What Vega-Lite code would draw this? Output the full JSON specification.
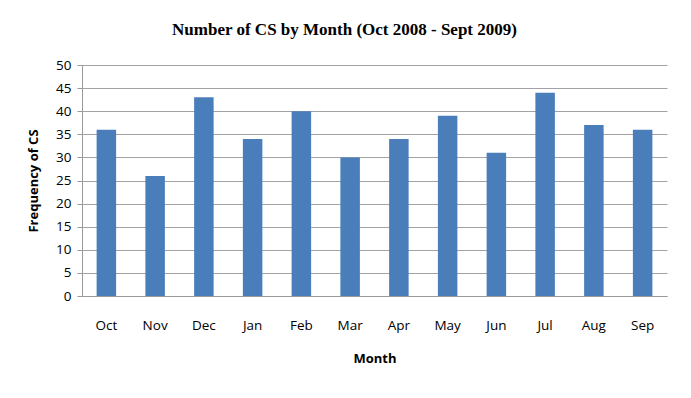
{
  "$schema": "https://vega.github.io/schema/vega-lite/v6.json",
  "width": 585,
  "height": 231,
  "autosize": {"type": "none"},
  "padding": {"left": 82, "top": 65, "right": 24, "bottom": 102},
  "background": "white",
  "title": {
    "text": "Number of  CS by Month (Oct 2008 - Sept 2009)",
    "font": "Liberation Serif",
    "fontSize": 17,
    "fontWeight": "bold",
    "color": "#000000",
    "anchor": "middle",
    "dx": -30,
    "offset": 19
  },
  "data": {
    "values": [
      {"Month": "Oct", "Frequency": 36},
      {"Month": "Nov", "Frequency": 26},
      {"Month": "Dec", "Frequency": 43},
      {"Month": "Jan", "Frequency": 34},
      {"Month": "Feb", "Frequency": 40},
      {"Month": "Mar", "Frequency": 30},
      {"Month": "Apr", "Frequency": 34},
      {"Month": "May", "Frequency": 39},
      {"Month": "Jun", "Frequency": 31},
      {"Month": "Jul", "Frequency": 44},
      {"Month": "Aug", "Frequency": 37},
      {"Month": "Sep", "Frequency": 36}
    ]
  },
  "mark": {"type": "bar", "color": "#4a7ebb"},
  "encoding": {
    "x": {
      "field": "Month",
      "type": "nominal",
      "sort": null,
      "scale": {"paddingInner": 0.6, "paddingOuter": 0.3},
      "axis": {
        "title": "Month",
        "titleFont": "Open Sans",
        "titleFontSize": 13,
        "titleFontWeight": "bold",
        "titleColor": "#000",
        "titlePadding": 21,
        "labelAngle": 0,
        "labelFont": "Open Sans",
        "labelFontSize": 13.5,
        "labelColor": "#000",
        "labelPadding": 22,
        "ticks": false,
        "domainColor": "#999999"
      }
    },
    "y": {
      "field": "Frequency",
      "type": "quantitative",
      "scale": {"domain": [0, 50]},
      "axis": {
        "title": "Frequency of CS",
        "titleFont": "Open Sans",
        "titleFontSize": 13,
        "titleFontWeight": "bold",
        "titleColor": "#000",
        "titlePadding": 15,
        "values": [0, 5, 10, 15, 20, 25, 30, 35, 40, 45, 50],
        "labelFont": "Open Sans",
        "labelFontSize": 13.5,
        "labelColor": "#000",
        "labelPadding": 6,
        "tickSize": 5,
        "tickColor": "#999999",
        "domainColor": "#999999",
        "gridColor": "#999999",
        "gridOpacity": 0.9
      }
    }
  },
  "config": {"view": {"stroke": null}}
}
